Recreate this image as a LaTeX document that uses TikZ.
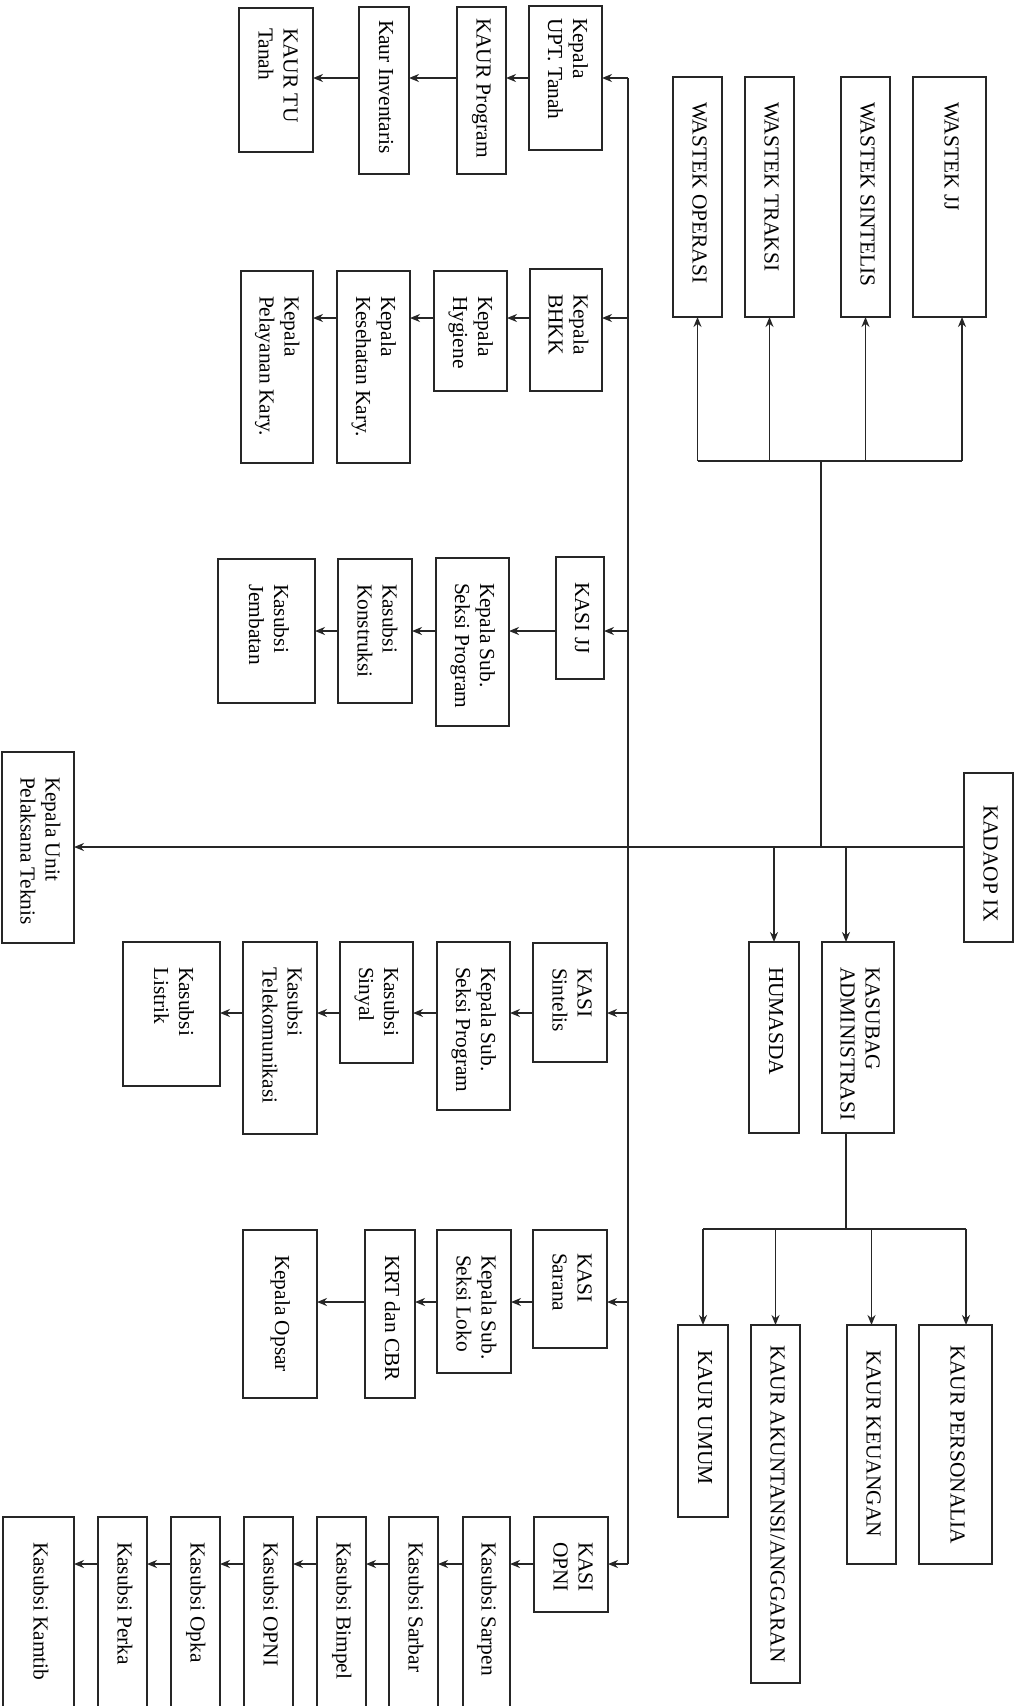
\documentclass[tikz,border=0pt]{standalone}
\usepackage{fontspec}
\setmainfont{Liberation Serif}
\usetikzlibrary{arrows.meta}
\tikzset{
  obox/.style={draw=black!85, line width=1.8pt, fill=white, rotate=-90, inner ysep=0pt, font=\oBfont, outer sep=0pt},
  conn/.style={draw=black!85, line width=1.7pt},
  arr/.style={conn, -{Stealth[length=10pt,width=8pt]}},
}
\newcommand\oBfont{\fontsize{21.4}{25}\selectfont}
\newcommand\obx[7][25]{%
  \pgfmathsetmacro\oBcx{(#3+#4)/2}%
  \pgfmathsetmacro\oBcy{(#5+#6)/2}%
  \pgfmathsetmacro\oBw{#6-#5}%
  \pgfmathsetmacro\oBh{#4-#3}%
  \pgfmathsetmacro\oBt{#6-#5-2*#1}%
  \node[obox, inner xsep=#1pt, minimum width=\oBw pt, minimum height=\oBh pt] (#2) at (\oBcx,\oBcy)
    {\makebox[\oBt pt][l]{\begin{tabular}{@{}l@{}}#7\end{tabular}}};%
}
\begin{document}
\begin{tikzpicture}[x=1pt,y=-1pt]
\useasboundingbox[fill=white] (0,0) rectangle (1027,1706);
\clip (0,0) rectangle (1027,1706);
% top-level
\obx[32]{kadaop}{964}{1013}{773}{942}{KADAOP IX}
\obx{kunit}{2}{74}{752}{943}{Kepala Unit\\Pelaksana Teknis}
\obx{humasda}{749}{799}{942}{1133}{HUMASDA}
\obx{kasubag}{822}{894}{942}{1133}{KASUBAG\\ADMINISTRASI}
% wastek
\obx{wops}{673}{722}{77}{317}{WASTEK OPERASI}
\obx{wtr}{745}{794}{77}{317}{WASTEK TRAKSI}
\obx{wsin}{841}{890}{77}{317}{WASTEK SINTELIS}
\obx{wjj}{913}{986}{77}{317}{WASTEK JJ}
% kaur admin
\obx{kumum}{678}{728}{1325}{1517}{KAUR UMUM}
\obx[20]{kakun}{751}{800}{1325}{1683}{KAUR AKUNTANSI/ANGGARAN}
\obx{kkeu}{847}{896}{1325}{1564}{KAUR KEUANGAN}
\obx[20]{kpers}{919}{992}{1325}{1564}{KAUR PERSONALIA}
% row 1
\obx[12]{upt}{529}{602}{6}{150}{Kepala\\UPT. Tanah}
\obx[11]{kprog}{457}{506}{7}{174}{KAUR Program}
\obx[13]{kinv}{359}{409}{7}{174}{Kaur Inventaris}
\obx[20]{ktu}{239}{313}{8}{152}{KAUR TU\\Tanah}
% row 2
\obx{bhkk}{530}{602}{269}{391}{Kepala\\BHKK}
\obx{hyg}{434}{507}{271}{391}{Kepala\\Hygiene}
\obx{kes}{337}{410}{271}{463}{Kepala\\Kesehatan Kary.}
\obx{pel}{241}{313}{271}{463}{Kepala\\Pelayanan Kary.}
% row 3
\obx{kasijj}{556}{604}{557}{679}{KASI JJ}
\obx{ksp1}{436}{509}{558}{726}{Kepala Sub.\\Seksi Program}
\obx{kon}{338}{412}{559}{703}{Kasubsi\\Konstruksi}
\obx{jem}{218}{315}{559}{703}{Kasubsi\\Jembatan}
% row 4
\obx{kasisin}{533}{607}{943}{1062}{KASI\\Sintelis}
\obx{ksp2}{437}{510}{942}{1110}{Kepala Sub.\\Seksi Program}
\obx{sin}{340}{413}{942}{1063}{Kasubsi\\Sinyal}
\obx{tel}{243}{317}{942}{1134}{Kasubsi\\Telekomunikasi}
\obx{lis}{123}{220}{942}{1086}{Kasubsi\\Listrik}
% row 5
\obx[23]{kasisar}{533}{607}{1230}{1348}{KASI\\Sarana}
\obx{loko}{437}{511}{1230}{1373}{Kepala Sub.\\Seksi Loko}
\obx{krt}{365}{415}{1230}{1398}{KRT dan CBR}
\obx{opsar}{243}{317}{1230}{1398}{Kepala Opsar}
% row 6
\obx{kasiopni}{534}{608}{1517}{1612}{KASI\\OPNI}
\obx{sarpen}{463}{510}{1517}{1730}{Kasubsi Sarpen}
\obx{sarbar}{389}{438}{1517}{1730}{Kasubsi Sarbar}
\obx{bimpel}{317}{366}{1517}{1730}{Kasubsi Bimpel}
\obx{kopni}{244}{293}{1517}{1730}{Kasubsi OPNI}
\obx{opka}{171}{220}{1517}{1730}{Kasubsi Opka}
\obx{perka}{98}{147}{1517}{1730}{Kasubsi Perka}
\obx{kamtib}{3}{74}{1517}{1730}{Kasubsi Kamtib}
% helper coordinates
\coordinate (r1) at (0,78);
\coordinate (r2) at (0,318);
\coordinate (r3) at (0,631);
\coordinate (r4) at (0,1013);
\coordinate (r5) at (0,1302);
\coordinate (r6) at (0,1564);
\coordinate (rm) at (0,847);
\coordinate (rw) at (0,461);
\coordinate (ra) at (0,1229);
\coordinate (busx) at (628,0);
\coordinate (wx) at (821,0);
\coordinate (kax) at (846,0);
\coordinate (wjjx) at ([xshift=12.5pt]wjj.east);
\coordinate (kpx) at ([xshift=10.5pt]kpers.west);
% main line
\draw[arr] (kadaop.south |- rm) -- (kunit.north |- rm);
\draw[conn] (wx |- rm) -- (wx |- rw);
\draw[conn] (wops.east |- rw) -- (wjjx |- rw);
\draw[arr] (wops.east |- rw) -- (wops.east);
\draw[arr] (wtr.east |- rw) -- (wtr.east);
\draw[arr] (wsin.east |- rw) -- (wsin.east);
\draw[arr] (wjjx |- rw) -- (wjjx);
% admin
\draw[arr] (humasda.west |- rm) -- (humasda.west);
\draw[arr] (kax |- rm) -- (kax |- kasubag.west);
\draw[conn] (kax |- kasubag.east) -- (kax |- ra);
\draw[conn] (kumum.west |- ra) -- (kpx |- ra);
\draw[arr] (kumum.west |- ra) -- (kumum.west);
\draw[arr] (kakun.west |- ra) -- (kakun.west);
\draw[arr] (kkeu.west |- ra) -- (kkeu.west);
\draw[arr] (kpx |- ra) -- (kpx);
% bus
\draw[conn] (busx |- r1) -- (busx |- r6);
\foreach \b/\r in {upt/r1, bhkk/r2, kasijj/r3, kasisin/r4, kasisar/r5, kasiopni/r6}
  \draw[arr] (busx |- \r) -- (\b.north |- \r);
% chains
\foreach \a/\b/\r in {upt/kprog/r1, kprog/kinv/r1, kinv/ktu/r1,
  bhkk/hyg/r2, hyg/kes/r2, kes/pel/r2,
  kasijj/ksp1/r3, ksp1/kon/r3, kon/jem/r3,
  kasisin/ksp2/r4, ksp2/sin/r4, sin/tel/r4, tel/lis/r4,
  kasisar/loko/r5, loko/krt/r5, krt/opsar/r5,
  kasiopni/sarpen/r6, sarpen/sarbar/r6, sarbar/bimpel/r6, bimpel/kopni/r6,
  kopni/opka/r6, opka/perka/r6, perka/kamtib/r6}
  \draw[arr] (\a.south |- \r) -- (\b.north |- \r);
\end{tikzpicture}
\end{document}
